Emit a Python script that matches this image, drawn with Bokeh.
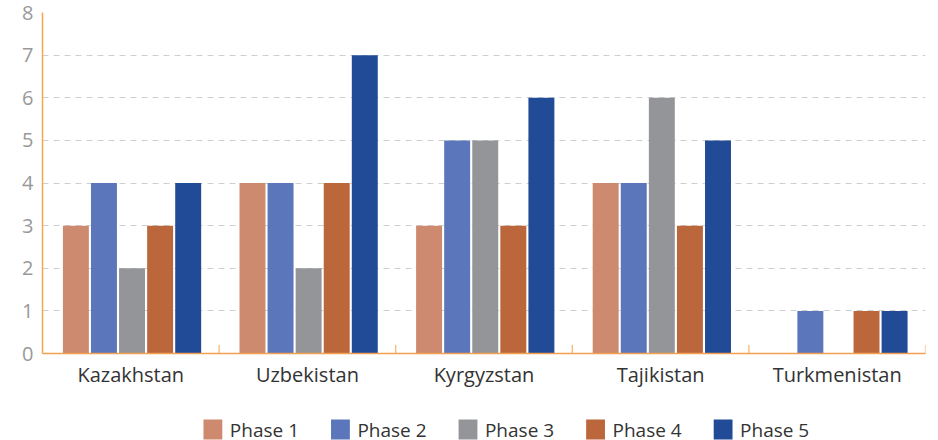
from bokeh.plotting import figure
from bokeh.models import ColumnDataSource, FactorRange, Range1d, FixedTicker
from bokeh.transform import dodge
from bokeh.layouts import column
from bokeh.core.properties import value
from bokeh.embed import file_html
from bokeh.resources import INLINE

countries = ["Kazakhstan", "Uzbekistan", "Kyrgyzstan", "Tajikistan", "Turkmenistan"]
phases = ["Phase 1", "Phase 2", "Phase 3", "Phase 4", "Phase 5"]
phase1 = [3, 4, 3, 4, 0]
phase2 = [4, 4, 5, 4, 1]
phase3 = [2, 2, 5, 6, 0]
phase4 = [3, 4, 3, 3, 1]
phase5 = [4, 7, 6, 5, 1]
colors = ["#CD8A6E", "#5B76BA", "#939598", "#BC673B", "#214B97"]
y_ticks = [0, 1, 2, 3, 4, 5, 6, 7, 8]

source = ColumnDataSource(dict(country=countries, p1=phase1, p2=phase2, p3=phase3, p4=phase4, p5=phase5,
                               y0=[0] * len(countries), y1=[0.2] * len(countries)))

p = figure(width=938, height=400, x_range=FactorRange(*countries, range_padding=0),
           y_range=Range1d(0, 8), output_backend="svg", toolbar_location=None,
           min_border_left=42, min_border_right=13, min_border_top=12, min_border_bottom=47)
p.outline_line_color = None

step = 0.159
width = 0.147
for i, (col, c) in enumerate(zip(["p1", "p2", "p3", "p4", "p5"], colors)):
    p.vbar(x=dodge("country", (i - 2) * step + 0.007, range=p.x_range), top=col, width=width,
           source=source, fill_color=c, line_color=None)

# boundary tick marks on x-axis
p.segment(x0=dodge("country", 0.5, range=p.x_range), y0="y0",
          x1=dodge("country", 0.5, range=p.x_range), y1="y1",
          source=source, line_color="#F5B26B", line_width=1.2)

p.yaxis.ticker = FixedTicker(ticks=y_ticks)
p.yaxis.axis_line_color = "#F5A54A"
p.yaxis.axis_line_width = 1.5
p.yaxis.major_tick_line_color = None
p.yaxis.minor_tick_line_color = None
p.yaxis.major_label_text_color = "#999999"
p.yaxis.major_label_text_font = "Open Sans"
p.yaxis.major_label_text_font_size = "20px"
p.yaxis.major_label_standoff = 3

p.xaxis.axis_line_color = "#F0A050"
p.xaxis.axis_line_width = 1.5
p.xaxis.major_tick_line_color = None
p.xaxis.minor_tick_line_color = None
p.xaxis.major_label_text_color = "#333333"
p.xaxis.major_label_text_font = "Open Sans"
p.xaxis.major_label_text_font_size = "20px"
p.xaxis.major_label_standoff = 1

p.xgrid.grid_line_color = None
p.ygrid.grid_line_color = "#cfcfcf"
p.ygrid.grid_line_dash = "6 5"
p.ygrid.ticker = FixedTicker(ticks=y_ticks)

# legend strip drawn as its own small figure
leg_x = [171 + 135.5 * i for i in range(len(phases))]
leg_src = ColumnDataSource(dict(
    x=[x + 10 for x in leg_x], tx=[x + 28 for x in leg_x],
    y=[11] * len(phases), label=phases, color=colors))
lg = figure(width=938, height=40, x_range=Range1d(0, 938), y_range=Range1d(0, 40),
            output_backend="svg", toolbar_location=None, x_axis_type=None, y_axis_type=None,
            min_border_left=0, min_border_right=0, min_border_top=0, min_border_bottom=0)
lg.outline_line_color = None
lg.xgrid.grid_line_color = None
lg.ygrid.grid_line_color = None
lg.rect(x="x", y="y", width=20, height=20, source=leg_src, fill_color="color", line_color=None)
lg.text(x="tx", y="y", text="label", source=leg_src, text_font=value("Open Sans"),
        text_font_size="19px", text_color="#333333", text_baseline="middle", text_align="left")

open("out.html", "w").write(file_html(column(p, lg, spacing=0), INLINE))
